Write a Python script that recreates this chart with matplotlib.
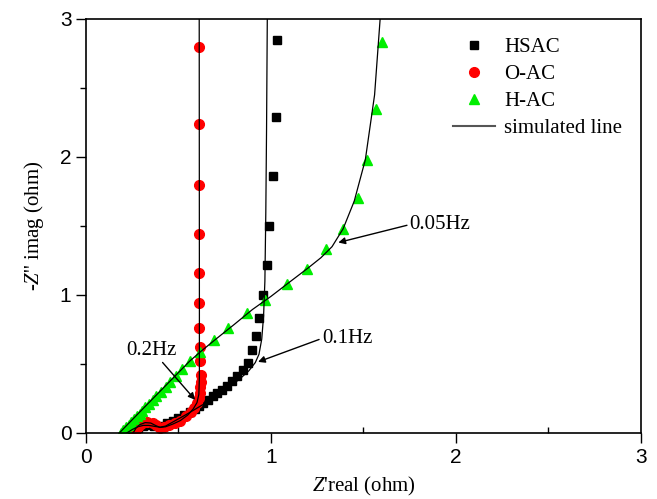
import numpy as np
import matplotlib
matplotlib.use("Agg")
import matplotlib.pyplot as plt
from matplotlib.ticker import MultipleLocator

plt.rcParams['mathtext.fontset'] = 'custom'
plt.rcParams['mathtext.rm'] = 'Liberation Serif'
plt.rcParams['mathtext.it'] = 'Liberation Serif:italic'

# HSAC measured points
hsac_x = [0.23, 0.25, 0.28, 0.31, 0.34, 0.37, 0.40, 0.42, 0.44, 0.47, 0.50, 0.53, 0.56,
          0.59, 0.61, 0.635, 0.66, 0.685, 0.71, 0.735, 0.76, 0.79, 0.815, 0.85, 0.875,
          0.896, 0.919, 0.937, 0.958, 0.977, 0.99, 1.01, 1.025, 1.03]
hsac_y = [0.0, 0.015, 0.035, 0.05, 0.055, 0.05, 0.04, 0.05, 0.07, 0.09, 0.11, 0.13, 0.155,
          0.175, 0.195, 0.22, 0.24, 0.265, 0.29, 0.31, 0.34, 0.375, 0.41, 0.455, 0.51,
          0.60, 0.70, 0.83, 1.00, 1.22, 1.50, 1.86, 2.29, 2.85]
# HSAC simulated line
hsac_fx = [0.22, 0.25, 0.28, 0.31, 0.34, 0.37, 0.40, 0.43, 0.47, 0.55, 0.65, 0.75, 0.83,
           0.88, 0.915, 0.935, 0.95, 0.96, 0.967, 0.972, 0.976, 0.98]
hsac_fy = [0.0, 0.025, 0.045, 0.055, 0.055, 0.048, 0.042, 0.05, 0.08, 0.14, 0.22, 0.31, 0.39,
           0.45, 0.51, 0.57, 0.68, 0.85, 1.1, 1.6, 2.2, 3.0]

# O-AC measured points
oac_x = [0.265, 0.28, 0.30, 0.33, 0.36, 0.38, 0.40, 0.42, 0.45, 0.48, 0.51, 0.54, 0.565,
         0.585, 0.60, 0.61, 0.615, 0.618, 0.62, 0.62, 0.618, 0.615, 0.612, 0.612, 0.612,
         0.612, 0.612, 0.612, 0.612]
oac_y = [0.0, 0.04, 0.065, 0.08, 0.075, 0.055, 0.035, 0.04, 0.055, 0.07, 0.09, 0.12, 0.15,
         0.18, 0.215, 0.25, 0.29, 0.33, 0.37, 0.42, 0.52, 0.62, 0.76, 0.94, 1.16,
         1.44, 1.80, 2.24, 2.80]
# O-AC simulated line
oac_fx = [0.255, 0.27, 0.29, 0.32, 0.35, 0.375, 0.40, 0.43, 0.47, 0.51, 0.55, 0.58, 0.60,
          0.61, 0.613, 0.613, 0.612]
oac_fy = [0.0, 0.035, 0.06, 0.075, 0.072, 0.055, 0.04, 0.045, 0.065, 0.09, 0.13, 0.175, 0.22,
          0.28, 0.40, 1.0, 3.0]

# H-AC measured points
hac_x = [0.19, 0.20, 0.215, 0.23, 0.245, 0.26, 0.275, 0.29, 0.305, 0.32, 0.34, 0.36, 0.38,
         0.405, 0.43, 0.455, 0.485, 0.52, 0.56, 0.615, 0.69, 0.77, 0.869, 0.965, 1.085,
         1.195, 1.30, 1.39, 1.47, 1.52, 1.57, 1.60]
hac_y = [0.0, 0.02, 0.04, 0.06, 0.08, 0.10, 0.12, 0.14, 0.16, 0.185, 0.21, 0.24, 0.265,
         0.30, 0.335, 0.37, 0.41, 0.465, 0.525, 0.59, 0.674, 0.76, 0.867, 0.965, 1.08,
         1.19, 1.33, 1.48, 1.70, 1.98, 2.345, 2.835]
# H-AC simulated line
hac_fx = [0.18, 0.30, 0.45, 0.56, 0.62, 0.70, 0.80, 0.90, 1.00, 1.10, 1.20, 1.27, 1.33,
          1.39, 1.45, 1.51, 1.56, 1.59]
hac_fy = [0.0, 0.165, 0.37, 0.52, 0.59, 0.678, 0.785, 0.895, 0.99, 1.093, 1.195, 1.27, 1.35,
          1.48, 1.68, 1.98, 2.45, 3.0]

fig = plt.figure(figsize=(6.57, 4.99), dpi=100)
ax = fig.add_axes([0.1309, 0.1323, 0.8447, 0.8297])

ax.plot(hsac_fx, hsac_fy, color='black', lw=0.9, zorder=3)
ax.plot(oac_fx, oac_fy, color='black', lw=0.9, zorder=3)
ax.plot(hac_fx, hac_fy, color='black', lw=0.9, zorder=3)
ax.plot(hsac_x, hsac_y, 's', color='black', ms=6, ls='none', label='HSAC', zorder=2)
ax.plot(oac_x, oac_y, 'o', color='red', ms=7, ls='none', label='O-AC', zorder=2)
ax.plot(hac_x, hac_y, '^', color='#00ee00', ms=7, ls='none', label='H-AC', zorder=2)
ax.plot([], [], color='#555555', lw=1.5, label='simulated line')

ax.set_xlim(0, 3)
ax.set_ylim(0, 3)
ax.xaxis.set_major_locator(MultipleLocator(1))
ax.yaxis.set_major_locator(MultipleLocator(1))
ax.xaxis.set_minor_locator(MultipleLocator(0.5))
ax.yaxis.set_minor_locator(MultipleLocator(0.5))
ax.tick_params(which='major', direction='out', length=7, width=1, labelsize=15)
ax.tick_params(axis='x', which='minor', direction='in', length=4, width=1)
ax.tick_params(axis='y', which='minor', direction='out', length=4, width=1)
for lab in ax.get_xticklabels() + ax.get_yticklabels():
    lab.set_fontfamily('Liberation Sans')
for sp in ax.spines.values():
    sp.set_linewidth(1.2)

ax.set_xlabel("$Z$'real (ohm)", fontsize=15, family='Liberation Serif', labelpad=6)
ax.set_ylabel("-$Z$'' imag (ohm)", fontsize=15, family='Liberation Serif', labelpad=10)

ann = dict(arrowstyle='-|>', color='black', lw=1, mutation_scale=10, shrinkA=0, shrinkB=0)
ax.annotate('0.2Hz', xy=(0.59, 0.24), xytext=(0.22, 0.6), fontsize=15,
            family='Liberation Serif', va='center', arrowprops=ann)
ax.annotate('0.1Hz', xy=(0.93, 0.515), xytext=(1.275, 0.685), fontsize=15,
            family='Liberation Serif', va='center',
            arrowprops=dict(ann, relpos=(0, 0.5)))
ax.annotate('0.05Hz', xy=(1.364, 1.38), xytext=(1.75, 1.51), fontsize=15,
            family='Liberation Serif', va='center',
            arrowprops=dict(ann, relpos=(0, 0.5)))

ax.legend(loc='upper left', bbox_to_anchor=(0.635, 0.99), frameon=False,
          prop={'family': 'Liberation Serif', 'size': 15}, handlelength=2.0,
          handletextpad=0.45, labelspacing=0.35, borderpad=0.2)

fig.savefig('out.png', dpi=100)
